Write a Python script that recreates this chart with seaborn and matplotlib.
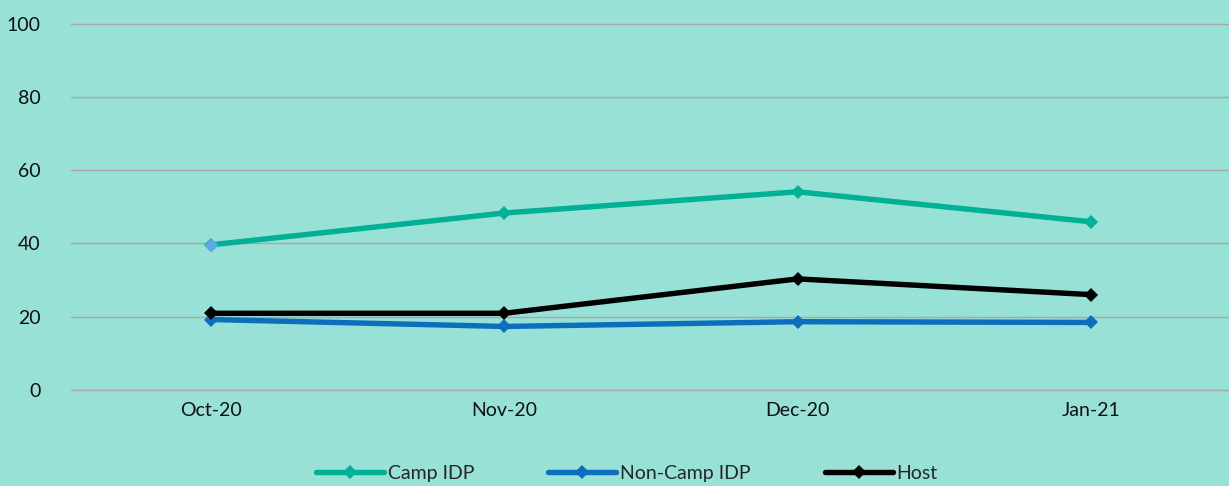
import matplotlib
matplotlib.use("Agg")
import matplotlib.pyplot as plt
import seaborn as sns
import pandas as pd

months = ["Oct-20", "Nov-20", "Dec-20", "Jan-21"]
camp_idp = [39.6, 48.3, 54.1, 45.9]
non_camp_idp = [19.2, 17.3, 18.6, 18.4]
host = [20.9, 20.9, 30.3, 26.0]
series_names = ["Camp IDP", "Non-Camp IDP", "Host"]
y_ticks = [0, 20, 40, 60, 80, 100]

colors = {"Camp IDP": "#00B097", "Non-Camp IDP": "#0B6FBE", "Host": "#000000"}
bg = "#97E1D6"

df = pd.DataFrame({"month": months * 3,
                   "series": sum([[s] * len(months) for s in series_names], []),
                   "value": camp_idp + non_camp_idp + host})
df["x"] = df["month"].map({m: i for i, m in enumerate(months)})

sns.set_theme(style="white")
plt.rcParams["font.family"] = ["Lato", "DejaVu Sans"]

fig = plt.figure(figsize=(12.29, 4.86), dpi=100, facecolor=bg)
ax = fig.add_axes([0.058, 0.198, 0.942, 0.753])
ax.set_facecolor(bg)

for name in series_names:
    sub = df[df["series"] == name]
    sns.lineplot(data=sub, x="x", y="value", ax=ax, color=colors[name],
                 linewidth=3.9, marker="D", markersize=7,
                 markeredgewidth=0, label=name, legend=False, zorder=3)

# first Camp IDP point drawn with a lighter marker
ax.scatter([0], [camp_idp[0]], marker="D", s=50, color="#5DA9E2",
           linewidths=0, zorder=4)

ax.set_ylim(0, 100)
ax.set_xlim(-0.476, 3.47)
ax.set_yticks(y_ticks)
ax.set_xticks(range(len(months)))
ax.set_xticklabels(months)
ax.set_xlabel("")
ax.set_ylabel("")
ax.tick_params(axis="both", length=0, labelsize=14, colors="#111111")
ax.tick_params(axis="y", pad=22)
ax.tick_params(axis="x", pad=9)
for lbl in ax.get_yticklabels():
    lbl.set_horizontalalignment("right")
ax.grid(axis="y", color="#ABA6AC", linewidth=1)
ax.grid(axis="x", visible=False)
for gl in ax.get_ygridlines():
    gl.set_clip_on(False)
for s in ax.spines.values():
    s.set_visible(False)

handles, labels = ax.get_legend_handles_labels()
leg = fig.legend(handles, labels, loc="lower center", ncol=3,
                 bbox_to_anchor=(0.51, -0.027), frameon=False, fontsize=14,
                 handlelength=3.5, handletextpad=0.2, columnspacing=3.8)

fig.savefig("out.png", dpi=100, facecolor=bg)
